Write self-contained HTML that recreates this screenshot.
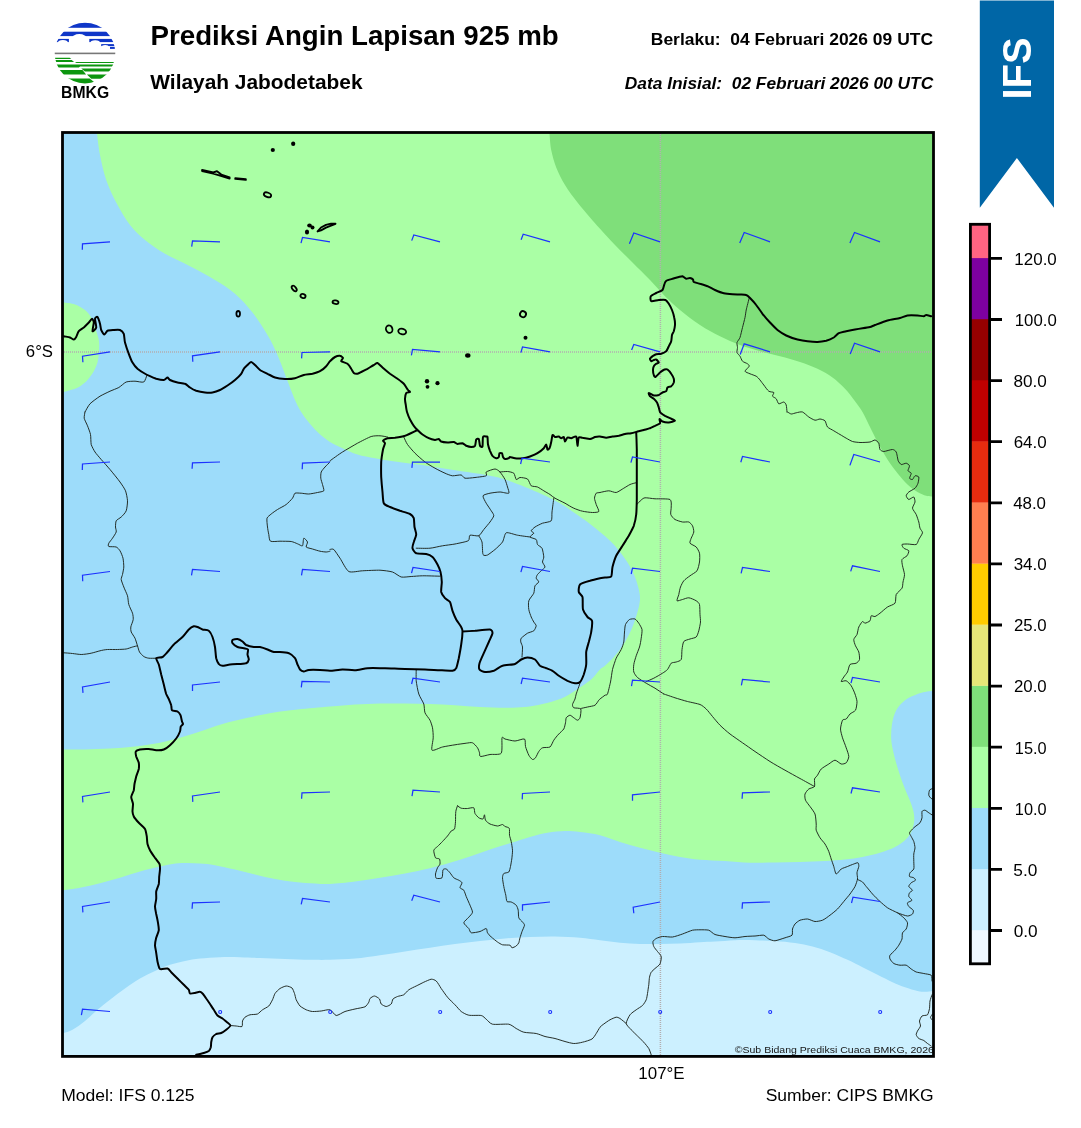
<!DOCTYPE html>
<html lang="id"><head><meta charset="utf-8"><title>Prediksi Angin Lapisan 925 mb</title>
<style>html,body{margin:0;padding:0;background:#fff}svg{display:block}text{font-family:"Liberation Sans",Arial,Helvetica,sans-serif}</style></head><body>
<svg width="1081" height="1128" viewBox="0 0 1081 1128">
<rect width="1081" height="1128" fill="#fff"/>
<defs><clipPath id="mapclip"><rect x="62.5" y="132.5" width="871" height="923.9"/></clipPath><clipPath id="logoclip"><circle cx="85" cy="53.1" r="30.3"/></clipPath></defs>
<g clip-path="url(#mapclip)">
<rect x="62.5" y="132.5" width="871" height="923.9" fill="#AAFFA5"/>
<path d="M97 127.5L97 133.8C97.5 137.3 98.5 147.3 100 155C101.5 162.7 103.5 172.1 106.2 180C109 187.9 112.3 195 116.2 202.5C120.2 210 125.2 218.8 130 225C134.8 231.2 139.2 235.2 145 240C150.8 244.8 157.5 249.4 165 253.8C172.5 258.1 181.7 261.9 190 266.2C198.3 270.6 207.5 275.4 215 280C222.5 284.6 228.8 288.3 235 293.8C241.2 299.2 247.1 305.6 252.5 312.5C257.9 319.4 263.3 327.9 267.5 335C271.7 342.1 274.4 347.9 277.5 355C280.6 362.1 283.3 370 286.2 377.5C289.2 385 292.5 394.2 295 400C297.5 405.8 299.2 408.5 301.2 412C303.3 415.5 304.8 417.4 307.5 420.8C310.2 424.1 313.8 428.5 317.5 432C321.2 435.5 325.8 439.3 330 442C334.2 444.7 337.9 446.2 342.5 448.2C347.1 450.3 352.1 452.8 357.5 454.5C362.9 456.2 368.8 457.1 375 458.2C381.2 459.4 387.9 460.5 395 461.5C402.1 462.5 409.6 463.4 417.5 464.5C425.4 465.6 434.2 467 442.5 468.2C450.8 469.5 459.6 470.8 467.5 472C475.4 473.2 483.8 474.5 490 475.8C496.2 477 499.2 477.6 505 479.5C510.8 481.4 518.8 484.5 525 487C531.2 489.5 536.7 491.8 542.5 494.5C548.3 497.2 554.6 500.1 560 503.2C565.4 506.4 570.4 510.1 575 513.2C579.6 516.4 583.3 518.9 587.5 522C591.7 525.1 596.2 528.9 600 532C603.8 535.1 606.7 537.4 610 540.8C613.3 544.1 616.9 548 620 552C623.1 556 626.2 560.3 628.8 564.5C631.2 568.7 633.3 572.8 635 577C636.7 581.2 637.9 585.8 638.8 589.5C639.6 593.2 640.2 595.8 640 599.5C639.8 603.2 638.8 607.4 637.5 612C636.2 616.6 634.6 622 632.5 627C630.4 632 627.9 637.2 625 642C622.1 646.8 618.3 651.8 615 655.8C611.7 659.7 607.5 663.5 605 665.8C602.5 668 602.1 667.4 600 669.5C597.9 671.6 595.4 675.5 592.5 678.2C589.6 681 586.2 683.1 582.5 685.8C578.8 688.4 573.8 691.8 570 694C566.2 696.2 564.6 697.3 560 699C555.4 700.7 548.3 702.7 542.5 704C536.7 705.3 531.2 706.4 525 707C518.8 707.6 512.5 707.8 505 707.8C497.5 707.8 488.3 707.4 480 707C471.7 706.6 463.3 705.8 455 705.2C446.7 704.8 438.3 704.3 430 704C421.7 703.7 413.3 703.6 405 703.5C396.7 703.4 388.3 703.3 380 703.5C371.7 703.7 363.3 704 355 704.5C346.7 705 339.6 705.7 330 706.5C320.4 707.3 307.1 708.5 297.5 709.5C287.9 710.5 280.8 711.4 272.5 712.8C264.2 714.1 255.8 715.9 247.5 717.8C239.2 719.6 230.4 721.7 222.5 724C214.6 726.3 207.1 729.2 200 731.5C192.9 733.8 186.7 735.9 180 737.8C173.3 739.6 167.5 741.3 160 742.8C152.5 744.2 143.3 745.5 135 746.5C126.7 747.5 118.3 748 110 748.5C101.7 749 92.7 749.3 85 749.5C77.3 749.7 67.3 749.5 63.8 749.5L57.5 749.5L57.5 127.5Z" fill="#9DDCFA"/>
<path d="M57.5 302.5L63.8 302.5C65.6 302.8 71.5 303.2 75 304.5C78.5 305.8 82.3 307.8 85 310C87.7 312.2 89.6 314.6 91.2 317.5C92.9 320.4 93.8 324.2 95 327.5C96.2 330.8 97.5 334.6 98.2 337.5C99 340.4 99.2 342.3 99.2 345C99.3 347.7 99 350.8 98.8 353.8C98.5 356.7 98.3 359.6 97.5 362.5C96.7 365.4 95.4 368.3 93.8 371.2C92.1 374.2 89.6 377.6 87.5 380C85.4 382.4 83.3 384 81.2 385.5C79.2 387 77.9 387.7 75 388.8C72.1 389.8 65.6 391.5 63.8 392L57.5 392Z" fill="#AAFFA5"/>
<path d="M57.5 890.2L63.8 890.2C66.5 889.8 74 888.9 80 887.8C86 886.6 93.3 884.9 100 883.2C106.7 881.6 113.3 879.7 120 877.8C126.7 875.8 133.3 873.4 140 871.5C146.7 869.6 154.6 867.8 160 866.5C165.4 865.2 168.3 864.6 172.5 864C176.7 863.4 180.4 863.1 185 863C189.6 862.9 195 863.1 200 863.5C205 863.9 209.2 864.2 215 865.2C220.8 866.2 228.3 868 235 869.5C241.7 871 248.3 872.9 255 874.5C261.7 876.1 268.3 877.8 275 879C281.7 880.2 288.3 881.2 295 882C301.7 882.8 309.2 883.2 315 883.5C320.8 883.8 323.3 884.3 330 884C336.7 883.7 346.7 882.5 355 881.5C363.3 880.5 371.7 879.1 380 877.8C388.3 876.4 396.7 875.1 405 873.5C413.3 871.9 422.5 870 430 868.2C437.5 866.5 443.3 864.7 450 862.8C456.7 860.8 463.3 858.7 470 856.5C476.7 854.3 483.3 851.7 490 849.5C496.7 847.3 503.3 845.3 510 843.2C516.7 841.2 523.8 838.8 530 837C536.2 835.2 541.7 833.8 547.5 832.8C553.3 831.8 559.6 831.1 565 831C570.4 830.9 574.2 831.3 580 832C585.8 832.7 593.3 833.6 600 835.2C606.7 836.9 613.3 839.9 620 842C626.7 844.1 633.3 846 640 847.8C646.7 849.5 653.3 851.2 660 852.8C666.7 854.3 673.3 855.8 680 857C686.7 858.2 692.5 859.1 700 859.8C707.5 860.4 716.7 860.5 725 861C733.3 861.5 741.7 862.5 750 862.8C758.3 863 766.7 862.6 775 862.5C783.3 862.4 791.7 862.2 800 862C808.3 861.8 817.5 861.4 825 861C832.5 860.6 838.8 860.2 845 859.5C851.2 858.8 856.7 858.1 862.5 857C868.3 855.9 874.6 854.4 880 852.8C885.4 851.1 890.6 849.3 895 847C899.4 844.7 903.3 842 906.2 839C909.2 836 911.2 832.8 912.5 829C913.8 825.2 914.5 820.7 914.2 816.5C914 812.3 912.8 808.6 911.2 804C909.7 799.4 907.1 794.4 905 789C902.9 783.6 900.6 777.3 898.8 771.5C896.9 765.7 895 759.4 893.8 754C892.5 748.6 891.5 744 891.2 739C891 734 891.2 728.8 892 724C892.8 719.2 894.1 714.2 896.2 710.2C898.4 706.3 901.5 703 905 700.2C908.5 697.5 914.2 695.4 917.5 694C920.8 692.6 922.5 692.5 925 692C927.5 691.5 931.2 691 932.5 690.8L938.5 690.8L938.5 1061.4L57.5 1061.4Z" fill="#9DDCFA"/>
<path d="M57.5 1033L63.8 1033C65.2 1032.5 69 1031.8 72.5 1029.8C76 1027.8 80.8 1024.3 85 1021C89.2 1017.7 93.3 1013.3 97.5 1009.8C101.7 1006.2 105.4 1003.3 110 999.8C114.6 996.2 120 992 125 988.5C130 985 135 981.4 140 978.5C145 975.6 150 973.3 155 971C160 968.7 165 966.4 170 964.8C175 963.1 180 962 185 961C190 960 194.2 959.1 200 958.5C205.8 957.9 213.3 957.5 220 957.2C226.7 957 233.3 957.1 240 957.2C246.7 957.4 252.5 957.7 260 958C267.5 958.3 276.7 958.7 285 959C293.3 959.3 302.5 959.6 310 959.8C317.5 959.9 322.5 960 330 959.8C337.5 959.5 346.7 959.2 355 958.5C363.3 957.8 371.7 956.4 380 955.2C388.3 954.1 396.7 952.8 405 951.5C413.3 950.2 421.7 949 430 947.8C438.3 946.5 446.7 945.1 455 944C463.3 942.9 471.7 941.9 480 941C488.3 940.1 496.7 939.2 505 938.5C513.3 937.8 521.7 937.3 530 937C538.3 936.7 546.7 936.4 555 936.5C563.3 936.6 572.5 937.1 580 937.8C587.5 938.4 593.3 939.4 600 940.2C606.7 941.1 613.3 942.1 620 942.8C626.7 943.4 633.3 943.8 640 944C646.7 944.2 653.3 944.1 660 944C666.7 943.9 673.3 943.8 680 943.5C686.7 943.2 694.2 942.6 700 942.2C705.8 941.9 709.2 941.8 715 941.5C720.8 941.2 728.3 940.5 735 940.2C741.7 940 748.3 940.1 755 940.2C761.7 940.4 768.3 940.5 775 941C781.7 941.5 788.8 942.1 795 943C801.2 943.9 806.7 945 812.5 946.5C818.3 948 824.2 950 830 952.2C835.8 954.5 842.1 957.2 847.5 959.8C852.9 962.2 857.5 964.8 862.5 967.2C867.5 969.8 872.5 972.2 877.5 974.8C882.5 977.2 887.9 980.2 892.5 982.2C897.1 984.3 900.8 985.8 905 987.2C909.2 988.7 914.2 990.2 917.5 991C920.8 991.8 922.5 991.8 925 991.8C927.5 991.8 931.2 991.1 932.5 991L938.5 991L938.5 1061.4L57.5 1061.4Z" fill="#CCF0FF"/>
<path d="M549.5 127.5L549.5 133.8C549.8 136.5 550.1 144.4 551.2 150C552.4 155.6 554 161.7 556.2 167.5C558.5 173.3 561.5 179.2 565 185C568.5 190.8 573.3 197.1 577.5 202.5C581.7 207.9 586.2 213.1 590 217.5C593.8 221.9 595.8 224.2 600 228.8C604.2 233.3 609.6 239.4 615 245C620.4 250.6 626.7 256.7 632.5 262.5C638.3 268.3 644.6 274.4 650 280C655.4 285.6 660 291.2 665 296.2C670 301.2 674.2 305.2 680 310C685.8 314.8 693.3 320.6 700 325C706.7 329.4 713.3 332.9 720 336.2C726.7 339.6 733.3 342.5 740 345C746.7 347.5 753.3 349.4 760 351.2C766.7 353.1 773.3 354.5 780 356.2C786.7 358 793.8 359.9 800 362C806.2 364.1 812.1 366.2 817.5 368.8C822.9 371.3 827.9 374.2 832.5 377.5C837.1 380.8 841.2 384.8 845 388.8C848.8 392.7 852.1 397.4 855 401.2C857.9 405.1 860 407.7 862.5 412C865 416.3 867.5 422 870 427C872.5 432 874.6 436.6 877.5 442C880.4 447.4 884.2 454.3 887.5 459.5C890.8 464.7 894.2 469.1 897.5 473.2C900.8 477.4 904.2 481.4 907.5 484.5C910.8 487.6 914.4 490.1 917.5 492C920.6 493.9 923.8 495 926.2 495.8C928.8 496.5 931.5 496.4 932.5 496.5L938.5 496.5L938.5 127.5Z" fill="#7FDF7A"/>
<path d="M660.4 134V1056M64 351.9H933" stroke="#b3adb0" stroke-width="1.5" stroke-dasharray="1 1" fill="none"/>
<path d="M85 412C85.6 411.1 88.3 405.5 90 403.8C91.7 402 97.8 397.6 100 396.2C102.2 394.9 107.9 392.2 110 391.2C112.1 390.3 116.9 388.5 118.8 387.5C120.6 386.5 124.4 382.7 126.2 382C128.1 381.3 133.1 381.2 135 381.2C136.9 381.2 142.4 382.7 143.8 382C145.1 381.3 146.6 375.8 147 375M85 412C84.9 412.7 84 416.7 84.2 418.2C84.5 419.8 86.8 423.9 87.5 425.8C88.2 427.6 90.1 432.4 90.5 434.5C90.9 436.6 90.8 442.6 91.2 444.5C91.8 446.4 93.9 450.3 95 452C96.1 453.7 99.6 457.6 101.2 459.5C102.9 461.4 107.9 467 110 469.5C112.1 472 118.3 479.6 120 482C121.7 484.4 124.7 488.7 125.5 490.8C126.3 492.8 127.4 498.5 127.5 500.8C127.6 503 126.9 508.9 126.2 510.8C125.6 512.6 122.4 515.9 121.2 517C120.1 518.1 116.9 519.6 116.2 520.8C115.6 521.9 115.5 525.8 115.5 527C115.5 528.2 116.6 530.8 116.2 532C115.9 533.2 113.3 537 112.5 538.2C111.7 539.5 109.2 542.3 108.8 543.2C108.3 544.2 107.9 546.1 108.8 546.5C109.6 546.9 115 546.5 116.2 547C117.5 547.5 119.2 549.5 120 550.8C120.8 552 122.6 556.4 123 558.2C123.4 560.1 123.8 565.2 123.8 567C123.7 568.8 122.8 573.1 122.5 574.5C122.2 575.9 121.1 578.1 121.2 579.5C121.4 580.9 123.1 585.2 123.8 587C124.4 588.8 126.9 593.8 127.5 595.8C128.1 597.7 128.2 602.6 128.8 604.5C129.3 606.4 132 611.6 132.5 613.2C133 614.9 133.4 618 133.2 619.5C133.1 621 131 625.6 130.8 627C130.5 628.4 130.8 630.8 131.2 632C131.7 633.2 134.3 636.7 135 638.2C135.7 639.8 137 644.2 137.5 645.8C138 647.3 138.8 650.8 139.5 652C140.2 653.2 142.7 655.8 143.8 656.5C144.8 657.2 147.4 658.1 148.8 658.2C150.1 658.4 155.4 658.2 156.2 658.2M63.8 652.8C64.7 652.8 70.6 653.3 72.5 653.5C74.4 653.7 79.2 654.5 81.2 654.5C83.3 654.5 89.2 653.7 91.2 653.2C93.3 652.8 98.2 651.2 100 650.8C101.8 650.3 105.6 649.6 107.5 649.5C109.4 649.4 115.4 649.6 117.5 649.5C119.6 649.4 124.6 649.3 126.2 649C127.9 648.7 131.2 647.4 132.5 647C133.8 646.6 136.9 645.9 137.5 645.8M330 462C329.4 462.6 326 465.9 325 467C324 468.1 321.7 470.8 321.2 472C320.8 473.2 320.6 476.9 320.8 478.2C320.9 479.6 322.2 483.1 322.5 484.5C322.8 485.9 324.3 489.9 323.8 490.8C323.2 491.6 319.2 492.1 317.5 492.5C315.8 492.9 310.6 493.9 308.8 494C306.9 494.1 302.8 493.3 301.2 493.2C299.7 493.2 296 492.7 295 493.2C294 493.8 293.5 497 292.5 498.2C291.5 499.5 287.9 503.2 286.2 504.5C284.6 505.8 279.2 508.4 277.5 509.5C275.8 510.6 272.4 513 271.2 514C270.1 515 267.4 516.8 267 518.2C266.6 519.7 267.3 525.2 267.5 527C267.7 528.8 268.4 532.9 268.8 534.5C269.1 536.1 269.2 540.5 270.5 541.2C271.8 542 277.7 541.2 280 541.2C282.3 541.3 289.3 541.2 291.2 541.5C293.2 541.8 296.2 543.3 297.5 543.8C298.8 544.2 301.8 546.4 302.5 545.8C303.2 545.1 303.2 538.7 303.8 538.2C304.3 537.8 307.2 541 307.5 542C307.8 543 305.7 546.2 306.2 547C306.8 547.8 311 548.5 312.5 549C314 549.5 318.5 550.9 320 551.2C321.5 551.6 325.1 552 326.2 552C327.4 552 329.6 551.3 330 551.2M749.2 298C748.9 299.3 746.7 307.8 746.2 310C745.8 312.2 745.4 315.6 745 317.5C744.6 319.4 743.1 325.3 742.5 327.5C741.9 329.7 740.6 335.8 740 337.5C739.4 339.2 737.3 341.4 737 342.5C736.7 343.6 737.5 346.4 737.5 347.5C737.5 348.6 736.7 351.5 737 352.5C737.3 353.5 739.4 355.3 740 356.2C740.6 357.2 741.7 360.4 742.5 361.2C743.3 362.1 746.8 363.2 747.5 363.8C748.2 364.3 749.5 365.4 749.2 366.2C749 367.1 744.9 370.4 745 371.2C745.1 372.1 748.8 373.2 750 373.8C751.2 374.3 755.1 375.6 756.2 376.2C757.4 376.9 759.2 379 760 380C760.8 381 762.8 383.8 763.8 385C764.7 386.2 767.6 390.4 768.8 391.2C769.9 392.1 773.3 391.9 773.8 392.5C774.2 393.1 772.2 395.6 772.5 396.2C772.8 396.9 775.6 397.9 776.2 398.8C776.9 399.6 777.9 403.4 778.8 403.8C779.6 404.1 782.9 401.9 783.8 402C784.6 402.1 785.9 403.9 786.2 405C786.6 406.1 786.9 411.2 787 412C787.1 412.8 787 411.8 787.5 412C788 412.2 790.3 413.9 791.2 414C792.2 414.1 795 413 796.2 412.8C797.5 412.5 801.1 411.5 802.5 412C803.9 412.5 807.4 416.1 808.8 417C810.1 417.9 813.8 420 815 420.2C816.2 420.5 818.9 418.9 820 419C821.1 419.1 824.2 419.9 825 420.8C825.8 421.6 826.5 425.9 827.5 427C828.5 428.1 832.4 429.9 833.8 430.8C835.1 431.6 838.6 433.7 840 434.5C841.4 435.3 844.9 437.5 846.2 438.2C847.6 439 851 441 852.5 441.5C854 442 858.1 442.4 860 442.5C861.9 442.6 868.3 442.3 870 442C871.7 441.7 874 439.9 875 440C876 440.1 878.2 442.2 878.8 443.2C879.3 444.3 879.4 448.6 880 449.5C880.6 450.4 882.4 451.5 883.8 451.5C885.1 451.5 891.1 449.4 892.5 449.5C893.9 449.6 895.6 450.8 896.2 452C896.9 453.2 897.7 459.4 898.2 460.8C898.8 462.1 900.4 464.2 901.2 464.5C902.1 464.8 905.3 463.1 906.2 463.2C907.2 463.4 909.3 464.9 909.5 465.8C909.7 466.6 907.8 469.9 908 470.8C908.2 471.6 911.1 472.4 911.2 473.2C911.4 474.1 909.4 477.6 909.5 478.2C909.6 478.9 911.9 479.8 912.5 479.5C913.1 479.2 914.3 476 915 475.8C915.7 475.5 918.4 476.2 918.8 477C919.1 477.8 918.4 482 918 483.2C917.6 484.5 916 487.3 915 488.2C914 489.2 909.7 491.2 908.8 492C907.8 492.8 906.2 494.9 906.2 495.8C906.2 496.6 907.9 499.4 908.8 499.5C909.6 499.6 913.1 496.7 913.8 497C914.4 497.3 915.1 500.8 915 502C914.9 503.2 912.4 506.9 912.5 508.2C912.6 509.6 915.6 513 916.2 514.5C916.9 516 918.3 520.5 918.8 522C919.2 523.5 919.6 527.1 920 528.2C920.4 529.4 922.6 531.5 922.5 532.8C922.4 534 919.4 538.2 918.8 539.5C918.1 540.8 917.5 544 916.2 544.5C915 545 909.1 544 907.5 544C905.9 544 902.4 544 902 544.5C901.6 545 903 547.6 903.8 548.2C904.5 548.9 908.4 549.9 908.8 550.8C909.1 551.6 907.8 554.8 907 555.8C906.2 556.7 902.5 558.4 902 559.5C901.5 560.6 902.2 564.1 902.5 565.8C902.8 567.4 904.4 572.7 904.5 574.5C904.6 576.3 903.3 580.5 903 582C902.7 583.5 902.8 586.9 902 588.2C901.2 589.6 897 592.8 896.2 594.5C895.5 596.2 896 601.9 895 603.2C894 604.6 889.2 605.9 887.5 607C885.8 608.1 881.4 612.2 880 613.2C878.6 614.3 876 616.2 875 616.5C874 616.8 871.8 615.3 871.2 615.8C870.7 616.2 870.7 619.9 870 620.8C869.3 621.6 865.8 623.2 865 623.2C864.2 623.3 863.2 621.1 862.5 621.5C861.8 621.9 859.4 625.6 858.8 627C858.1 628.4 857.6 633.1 857 634.5C856.4 635.9 853.9 638.2 853.8 639.5C853.6 640.8 854.9 644.4 855.5 645.8C856.1 647.1 858.3 650.5 858.8 652C859.2 653.5 859.8 658.2 859.5 659.5C859.2 660.8 857.3 662.7 856.2 663.2C855.2 663.8 851 663.5 850 664.5C849 665.5 848.2 670.6 847.5 672C846.8 673.4 844.4 675.9 843.8 677C843.1 678.1 841 681.1 841.2 681.5C841.5 681.9 845.1 680.3 846.2 680.8C847.4 681.2 850.3 684.3 851.2 685.8C852.2 687.2 854.4 692.2 855 694C855.6 695.8 856.9 699.7 857 701.5C857.1 703.3 856.3 708.9 855.5 710.2C854.7 711.6 851 713 850 714C849 715 847.1 718.3 846.2 719C845.4 719.7 843.1 719.1 842.5 720.2C841.9 721.4 840.5 727.1 840.5 729C840.5 730.9 841.9 735.7 842.5 737.8C843.1 739.8 845.6 745.7 846.2 747.8C846.9 749.8 848.8 754.8 848.8 756.5C848.8 758.2 847.1 761.9 846.2 762.8C845.4 763.6 842.5 764.3 841.2 764C840 763.7 836.4 760.2 835 760.2C833.6 760.2 830.3 763 828.8 764C827.2 765 822.5 767.8 821.2 769C820 770.2 818.2 774.1 817.5 775.2C816.8 776.4 814.8 777.8 814.5 779C814.2 780.2 815.1 785.4 814.5 786.5C813.9 787.6 809.8 788.2 808.8 789C807.7 789.8 805.4 792.8 805 794C804.6 795.2 804.9 798.9 805.5 800.2C806.1 801.6 808.9 805 810 806.5C811.1 808 814.3 812.1 815 814C815.7 815.9 816.1 822.2 816.2 824C816.4 825.8 815.8 828.7 816.2 830.2C816.7 831.8 819 836.2 820 837.8C821 839.3 824 842.5 825 844C826 845.5 828.1 849.8 828.8 851.5C829.4 853.2 830.7 857.3 831.2 859C831.8 860.7 833.2 864.8 833.8 866.5C834.3 868.2 835.4 873.7 836.2 874C837.1 874.3 840 869.8 841.2 869C842.5 868.2 846.1 867.1 847.5 866.5C848.9 865.9 852.6 864.4 853.8 864C854.9 863.6 857.4 862.5 858 862.8C858.6 863 858.9 865.4 858.8 866.5C858.6 867.6 857.1 871.4 857 872.8C856.9 874.1 857.7 877.5 857.5 879C857.3 880.5 855.8 884.8 855 886.5C854.2 888.2 851.2 892.3 850 894C848.8 895.7 845.1 899.8 843.8 901.5C842.4 903.2 839 907.5 837.5 909C836 910.5 831.7 914 830 915.2C828.3 916.5 824.2 919.6 822.5 920.2C820.8 920.9 816.7 921.6 815 921.5C813.3 921.4 809.2 919.1 807.5 919C805.8 918.9 801.4 919.7 800 920.2C798.6 920.8 795.8 923 795 924C794.2 925 792.8 927.8 792.5 929C792.2 930.2 792.8 934.3 792 935.2C791.2 936.2 786.9 937.1 785 937.8C783.1 938.4 776.8 940.6 775 940.8C773.2 940.9 770 939.6 768.8 939C767.5 938.4 765.3 935.6 763.8 935.2C762.2 934.9 757.1 935.9 755 936C752.9 936.1 747.2 936.3 745 936.5C742.8 936.7 737.2 937.8 735 937.8C732.8 937.8 727.2 936.9 725 936.5C722.8 936.1 716.8 935.2 715 934.5C713.2 933.8 710.4 930.8 708.8 930.2C707.1 929.7 701.8 929.8 700 929.8C698.2 929.8 694.4 929.8 692.5 930.2C690.6 930.7 684.7 933.2 682.5 934C680.3 934.8 674.7 936.7 672.5 937C670.3 937.3 664.3 936.3 662.5 936.5C660.7 936.7 657.3 937.9 656.2 938.5C655.2 939.1 653.3 940.6 653 941.5C652.7 942.4 653.2 945.4 653.8 946.5C654.2 947.6 656.7 950.4 657.5 951.5C658.3 952.6 661 955.1 661.2 956.5C661.5 957.9 660.7 962.7 660 964C659.3 965.3 656 967.6 655 968.5C654 969.4 651.9 971.3 651.2 972.2C650.6 973.2 649.8 975.9 649.5 977.2C649.2 978.6 649 982.9 648.8 984.8C648.5 986.6 647.8 991.8 647.5 993.5C647.2 995.2 646.8 998.4 646.2 999.8C645.7 1001.1 643.6 1004.4 642.5 1005.5C641.4 1006.6 637.6 1008.7 636.2 1009.8C634.9 1010.8 631.1 1013.2 630 1014.8C628.9 1016.3 626.1 1021.8 626.2 1023.5C626.4 1025.2 630 1028.4 631.2 1029.8C632.5 1031.1 636.1 1034.6 637.5 1036C638.9 1037.4 642.5 1040.9 643.8 1042.2C645 1043.6 647.9 1047.1 648.8 1048.5C649.6 1049.9 651 1054.1 651.2 1054.8M626.2 1023.5C625.6 1022.9 621.1 1019.2 620 1018.5C618.9 1017.8 617.4 1017.1 616.2 1017.2C615.1 1017.4 611.4 1019 610 1019.8C608.6 1020.5 604.9 1023.2 603.8 1024C602.6 1024.8 600.8 1026.2 600 1027.2C599.2 1028.3 597.1 1032.2 596.2 1033.5C595.4 1034.8 593.5 1038 592 1039C590.5 1040 584.5 1041.8 582.5 1042.2C580.5 1042.8 575.7 1043.6 573.8 1043.5C571.8 1043.4 567.1 1042.1 565 1041.5C562.9 1040.9 557.2 1039.1 555 1038.5C552.8 1037.9 547.1 1037.1 545 1036.5C542.9 1035.9 538.6 1034 536.2 1033.5C533.9 1033 526 1032.8 523.8 1032.2C521.5 1031.7 517.9 1029.4 516.2 1028.5C514.6 1027.6 511.4 1024.7 508.8 1024.2C506.1 1023.8 495 1024.8 492.5 1024.2C490 1023.7 487.5 1020.2 486.2 1019.2C485 1018.3 483.2 1015.9 481.2 1015.5C479.3 1015.1 471 1015.7 468.8 1015.2C466.5 1014.8 462.8 1012.7 461.2 1011.5C459.7 1010.3 456.5 1006.3 455 1004.8C453.5 1003.2 449 999.1 447.5 997.2C446 995.4 442.5 990.3 441.2 988.5C440 986.7 437.4 982 436.2 981C435.1 980 432.6 979.1 431.2 979.2C429.9 979.4 425.4 981.5 423.8 982.2C422.1 983 417.9 985.2 416.2 986C414.6 986.8 410.1 988.8 408.8 989.8C407.4 990.7 405 994 403.8 994.8C402.5 995.5 398.7 996 397.5 996.5C396.3 997 393.7 998.2 393 999C392.3 999.8 392 1003.2 391.2 1004C390.5 1004.8 387.4 1006.5 386.2 1006.5C385.1 1006.5 382 1004.8 381.2 1004C380.5 1003.2 380.2 999.9 379.5 999C378.8 998.1 375.6 996.1 374.5 996C373.4 995.9 370.6 997.8 370 998.5C369.4 999.2 369.3 1001.3 368.8 1002.2C368.2 1003.2 366.5 1006 365 1006.8C363.5 1007.5 357.2 1008.5 355 1009C352.8 1009.5 347.1 1010.8 345 1011.5C342.9 1012.2 337.9 1015.7 336.2 1015.5C334.6 1015.3 331.7 1010.2 330 1009.8C328.3 1009.2 323.2 1010.8 321.2 1011C319.3 1011.2 314.2 1011.6 312.5 1011.5C310.8 1011.4 307.6 1010.4 306.2 1009.8C304.9 1009.1 301.1 1007.1 300 1006C298.9 1004.9 296.9 1001.1 296.2 999.8C295.6 998.4 295 994.8 294.5 993.5C294 992.2 292.9 988.8 292 988C291.1 987.2 287.6 985.9 286.2 986C284.9 986.1 281.2 987.7 280 988.5C278.8 989.3 275.8 992.2 275 993.5C274.2 994.8 273.2 998.4 272.5 999.8C271.8 1001.1 269.9 1004.9 268.8 1006C267.6 1007.1 263.8 1008.9 262.5 1009.8C261.2 1010.6 258.9 1013.4 257.5 1014C256.1 1014.6 251.4 1014.4 250 1014.8C248.6 1015.1 245.8 1016.6 245 1017.2C244.2 1017.9 242.8 1020 242.5 1021C242.2 1022 242.7 1025.9 242 1026.5C241.3 1027.1 237.5 1026.1 236.2 1026C235 1025.9 231.1 1025.6 230.5 1025.5M663.8 694C665 694.4 672.4 696.9 675 697.8C677.6 698.6 684.7 700.8 687.5 701.5C690.3 702.2 697.9 703.7 700 704.5C702.1 705.3 704.9 707.7 706.2 709C707.6 710.3 711 714.7 712.5 716.5C714 718.3 718.1 723.3 720 725.2C721.9 727.2 727.5 732.1 730 734C732.5 735.9 739.7 740.8 742.5 742.8C745.3 744.7 751.9 749.4 755 751.5C758.1 753.6 766.7 759.4 770 761.5C773.3 763.6 781.7 768.4 785 770.2C788.3 772.1 796.7 776.7 800 778.5C803.3 780.3 812.9 785.6 814.5 786.5M857.5 879.5C858.1 879.8 861.5 881.2 862.5 882C863.5 882.8 865.1 885.2 866.2 886.5C867.4 887.8 871 892.3 872.5 894C874 895.7 878.3 900 880 901.5C881.7 903 885.6 906.5 887.5 907.8C889.4 909 895.3 911.8 897.5 912.8C899.7 913.7 905.8 915.9 907.5 916C909.2 916.1 911.9 914.6 912.5 914C913.1 913.4 913.7 911.1 913.2 910.2C912.8 909.4 909.4 907.3 908.8 906.5C908.1 905.7 907.1 903.4 907.5 902.8C907.9 902.1 911.9 900.9 912 900.2C912.1 899.6 909 897.3 908.8 896.5C908.5 895.7 909.1 893.4 909.5 892.8C909.9 892.1 912.6 890.9 912.5 890.2C912.4 889.6 908.9 887.3 908.8 886.5C908.6 885.7 910.5 883.4 911.2 882.8C912 882.1 915.2 880.8 915.5 880.2C915.8 879.7 914.4 878.2 913.8 877.8C913.1 877.3 909.9 877.1 909.5 876.5C909.1 875.9 909.5 873.6 910 872.8C910.5 871.9 913.3 870.2 913.8 869C914.2 867.8 913.8 863.2 913.8 861.5C913.8 859.8 913.6 855.5 913.8 854C913.9 852.5 915 849.1 915 847.8C915 846.4 914.2 842.8 913.8 841.5C913.3 840.2 911.7 837.5 911.2 836.5C910.8 835.5 909.2 833.7 909.5 832.8C909.8 831.8 912.6 828.9 913.8 827.8C914.9 826.6 919.1 823.9 920 822.8C920.9 821.6 921.8 819 922 817.8C922.2 816.5 921.7 812.3 922 811.5C922.3 810.7 924.2 810.1 925 810.2C925.8 810.4 927.9 812.2 928.8 812.8C929.6 813.3 932.1 815 932.5 815.2M897.5 912.8C898.2 913.3 902.6 916.6 903.8 917.8C904.9 918.9 907.2 921.5 907.5 922.8C907.8 924 906.8 927.9 906.2 929C905.7 930.1 903 931.6 902.5 932.8C902 933.9 902.4 937.6 902 939C901.6 940.4 899.5 944 898.8 945.2C898 946.5 896 949.1 895 950.2C894 951.4 890.6 954.3 890 955.2C889.4 956.2 889.6 958.1 890 959C890.4 959.9 892.6 962.8 893.8 963.5C894.9 964.2 898.6 965.1 900 965.2C901.4 965.4 905 964.8 906.2 965.2C907.5 965.7 910.1 968.2 911.2 969C912.4 969.8 914.9 971.5 916.2 972C917.6 972.5 922.1 973.1 923.8 973.5C925.4 973.9 930.3 974.4 931.2 975.2C932.2 976.1 931.9 980.4 932 981M932.5 788.5C932.2 788.7 929.9 789.5 929.5 790.2C929.1 791 928.6 794.3 928.8 795.2C928.9 796.2 930.8 798.1 931.2 798.5C931.7 798.9 932.4 798.9 932.5 799M932 994.8C931.8 995.4 930.3 999.5 930 1001C929.7 1002.5 929.8 1007 929.5 1008.5C929.2 1010 928.3 1013.9 927.5 1014.8C926.7 1015.6 922.9 1015.3 922 1016C921.1 1016.7 919.7 1019.9 919.5 1021C919.3 1022.1 920.7 1024.9 920.5 1026C920.3 1027.1 918 1030 917.5 1031C917 1032 916.1 1033.9 916.2 1034.8C916.4 1035.6 917.9 1037.9 918.8 1038.5C919.6 1039.1 922.8 1039.9 923.8 1040.5C924.7 1041.1 926.7 1042.9 927.5 1043.5C928.3 1044.1 930.8 1045.7 931.2 1046M932.5 1014C932.3 1014.4 930.6 1016.6 930.5 1017.2C930.4 1017.9 931.8 1019.5 932 1019.8M330 460.8C331.4 459.8 339.4 453.9 342.5 452C345.6 450.1 354.3 445 357.5 443.2C360.7 441.5 368.8 437.3 371.2 436.5C373.8 435.7 378.2 435.7 380 435.8C381.8 435.8 386.7 436.9 387.5 437M403.8 437C404.2 437.8 406.2 442.7 407.5 444.5C408.8 446.3 413.1 451.3 415 453.2C416.9 455.2 422.8 460.3 425 462C427.2 463.7 432.8 467 435 468.2C437.2 469.5 443.1 472.4 445 473.2C446.9 474.1 450.7 475.6 452.5 475.8C454.3 475.9 459.9 474.7 461.2 475C462.6 475.3 463.5 478 465 478.2C466.5 478.5 472.6 477.8 475 477.5C477.4 477.2 485 476.4 486.2 475.8C487.5 475.1 485.3 472.8 486.2 472C487.2 471.2 493.5 469 495 469C496.5 469 498.9 470.8 500 472C501.1 473.2 504.2 477.8 505 479.5C505.8 481.2 507.1 485.5 507.5 487C507.9 488.5 509.6 492.7 508.8 493.2C507.9 493.8 502.1 492 500 492C497.9 492 491.9 492.8 490 493.2C488.1 493.7 483.4 494.6 483 495.8C482.6 496.9 485.3 501.6 486.2 503.2C487.2 504.9 490.4 509.4 491.2 510.8C492.1 512.1 493.9 514.5 493.8 515.8C493.6 517 491.1 520.5 490 522C488.9 523.5 485 528 483.8 529.5C482.5 531 480.3 535.1 478.8 535.8C477.2 536.4 471.2 534.7 470 535.2C468.8 535.8 469.9 539.8 468.2 540.8C466.6 541.7 457.9 543.4 455 544C452.1 544.6 445.3 545.3 442.5 545.8C439.7 546.2 432.9 548 430 548.2C427.1 548.5 417.8 548.2 416.2 548.2M478.8 535.8C479.1 536.4 481.5 539.9 482 542C482.5 544.1 482.4 553.1 483 554.5C483.6 555.9 486.2 555.6 487.5 555C488.8 554.4 493.3 550.9 495 549.5C496.7 548.1 501.2 543.9 502.5 542C503.8 540.1 504.6 533.5 506.2 532.8C507.9 532 514.9 534.8 517.5 535.2C520.1 535.7 528.6 536.8 530 537M500 472C500.8 471.9 506 471.4 507.5 471.5C509 471.6 512.8 472.4 513.8 473.2C514.7 474.1 515.6 479 516.2 479.5C516.9 480 518.8 477.6 520 477.5C521.2 477.4 526.2 478.1 527.5 479C528.8 479.9 530.1 484.9 531.2 485.8C532.4 486.6 536.1 486.4 537.5 487C538.9 487.6 542.4 489.9 543.8 490.8C545.1 491.6 548.8 493.7 550 494.5C551.2 495.3 553.3 497.3 555 498.2C556.7 499.2 562.9 502.1 565 503.2C567.1 504.4 571.8 507.4 573.8 508.2C575.7 509.1 580.4 510.8 582.5 511.2C584.6 511.7 590.7 512.5 592.5 512.5C594.3 512.5 598.3 512.4 598.8 511.5C599.2 510.6 596.7 506 596.2 504.5C595.8 503 594.5 499.5 594.5 498.2C594.5 497 595.6 493.9 596.2 493.2C596.9 492.6 598.6 492.8 600 492.5C601.4 492.2 606.9 490.8 608.8 490.8C610.6 490.8 614.6 492.8 616.2 492.5C617.9 492.2 622.2 489.1 623.8 488.2C625.3 487.4 628.7 485.1 630 484.5C631.3 483.9 635.1 482.9 635.8 482.8M553.8 498.2C553.6 499.8 552.3 509.5 552 512C551.7 514.5 552.3 519.5 551.2 520.8C550.2 522 544.3 522.6 542.5 523.2C540.7 523.9 536.2 526.2 535 527C533.8 527.8 531.4 530.1 531.2 530.8C531.1 531.4 533.9 532.6 533.8 533.2C533.6 533.9 529.7 536.3 530 537C530.3 537.7 535.4 538.7 536.2 539.5C537.1 540.3 536.9 543.5 537.5 544.5C538.1 545.5 541.3 546.9 542 548.2C542.7 549.6 543.7 555.5 543.8 557C543.8 558.5 542.4 560.9 542.5 562C542.6 563.1 545.1 566 545 567C544.9 568 542.1 569.9 541.2 570.8C540.4 571.6 538.1 573.7 537.5 574.5C536.9 575.3 536.1 577.4 536.2 578.2C536.4 579.1 538.9 581.2 538.8 582C538.6 582.8 535.6 584.5 535 585.8C534.4 587 534.4 591.6 533.8 593.2C533.1 594.9 529.3 598.9 528.8 600.8C528.2 602.6 528.5 607.7 528.8 609.5C529 611.3 530.7 615.6 531.2 617C531.8 618.4 533.2 621 533.8 622C534.3 623 536.2 624.8 536.2 625.8C536.2 626.7 534.7 629.9 533.8 630.8C532.8 631.6 528.9 632.4 527.5 633.2C526.1 634.1 522 637.3 521.2 638.2C520.5 639.2 520.6 641 520.8 642C520.9 643 522.4 645.3 522.5 647C522.6 648.7 522.1 655.9 522 657M330 549.5C330.4 549.5 332.6 548.5 333.8 549.5C334.9 550.5 338.3 555.8 340 558.2C341.7 560.7 346.2 570.1 348.8 571.5C351.2 572.9 359 570.9 362.5 570.8C366 570.6 376.7 570.1 380 570.2C383.3 570.4 390.1 571.2 392.5 572C394.9 572.8 399.2 576.5 401.2 577C403.3 577.5 408.9 576.6 411.2 576.5C413.6 576.4 419.3 575.8 422.5 575.8C425.7 575.7 438.1 576.2 440 576.2M416.2 669.5C416.2 670.8 416 678 416.2 680.8C416.5 683.5 417.9 691.4 418.8 694C419.6 696.6 423.1 701.9 423.8 704C424.4 706.1 424.3 710.9 425 712.8C425.7 714.6 429.2 718.6 430 720.2C430.8 721.9 432.1 725.8 432.5 727.8C432.9 729.7 433.3 735.2 433.2 737.8C433.2 740.2 431 749.2 432 750.2C433 751.3 439.9 747.6 442.5 747C445.1 746.4 452.4 745.2 455 744.8C457.6 744.3 464.3 743.5 466.2 743.2C468.2 743 471.2 742.2 472.5 742.8C473.8 743.2 476.7 746.6 477.5 747.8C478.3 748.9 479.2 751.8 479.5 752.8C479.8 753.7 479.3 756.3 480.5 756.5C481.7 756.7 487.7 754.9 490 754.5C492.3 754.1 499.9 755.1 501.2 753.2C502.6 751.4 501.6 739.3 502 737.8C502.4 736.2 503.6 738.6 505 739C506.4 739.4 512.8 741 515 741C517.2 741 523.3 738.4 524.5 739C525.7 739.6 525 744.7 525.5 746.5C526 748.3 528 753.8 528.8 755.2C529.5 756.7 531.8 759.2 532.5 759.5C533.2 759.8 534.8 758.6 535.5 757.8C536.2 756.9 538 752.6 538.8 751.5C539.5 750.4 541.2 748.2 542.5 747.8C543.8 747.2 548.8 747.8 550 747C551.2 746.2 552.8 741.7 553.8 740.2C554.7 738.8 557.6 735.2 558.8 734C559.9 732.8 563 730.2 563.8 729C564.5 727.8 565.2 724 565.5 722.8C565.8 721.5 565.8 718.6 566.2 717.8C566.8 716.9 569.2 715.2 570 715.2C570.8 715.2 572.9 717.2 573.8 717.8C574.6 718.3 576.8 720.2 577.5 720.2C578.2 720.2 579.6 719 580 717.8C580.4 716.5 581.4 710.1 580.8 709C580.1 707.9 574.7 708.2 573.8 707.8C572.8 707.2 572.4 705.5 572.5 704.5C572.6 703.5 574.6 700.2 575 699C575.4 697.8 575.7 695.8 576.2 694C576.8 692.2 579.6 684.4 580 683.2M580.8 708.5C581.5 708.3 585.9 707.4 587.5 707C589.1 706.6 593.8 706 595 705.2C596.2 704.5 598.2 700.9 598.8 700.2C599.3 699.6 599.3 699.6 600 699C600.7 698.4 604.2 695.8 605 695.2C605.8 694.7 606.9 695.5 607.5 694C608.1 692.5 609.9 684.7 610.5 682C611.1 679.3 611.9 672.1 612.5 669.5C613.1 666.9 615.3 660.5 616.2 658.2C617.2 656 620.4 651.3 621.2 649.5C622.1 647.7 623.4 643.9 623.8 642C624.1 640.1 624.3 633.9 624.5 632C624.7 630.1 624.9 625.9 625.5 624.5C626.1 623.1 628.4 620.1 629.5 619.5C630.6 618.9 634 618.6 635 619C636 619.4 638 622.1 638.8 623.2C639.5 624.4 641.7 627.8 642 629.5C642.3 631.2 641.5 636.3 641.2 638.2C641 640.2 640.1 645.1 639.5 647C638.9 648.9 636.9 653.8 636.2 655.8C635.6 657.7 634 662.7 633.8 664.5C633.5 666.3 633.3 670.6 633.8 672C634.2 673.4 636.1 676.2 637.5 677.5C638.9 678.8 644.3 682.1 646.2 683.2C648.2 684.4 653.1 687.1 655 688.2C656.9 689.4 662.8 693.4 663.8 694M636.8 504.5C637.2 504 640.3 500.8 641.2 500C642.2 499.2 643.5 497.9 645 497.8C646.5 497.6 652.2 498.6 655 498.8C657.8 498.9 668.2 498.6 670 499.5C671.8 500.4 671.2 505.3 671.2 507C671.3 508.7 670.3 513.1 670.8 514.5C671.2 515.9 673.7 518.7 675 519.5C676.3 520.3 681 521.7 682.5 522C684 522.3 687.6 521.6 688.8 522C689.9 522.4 691.9 524.6 692.5 525.8C693.1 526.9 693.9 530.6 693.8 532C693.6 533.4 691.7 537 691.2 538.2C690.8 539.5 689.4 542.3 690 543.2C690.6 544.2 695.2 545.9 696.2 547C697.3 548.1 699.1 551.6 699.5 553.2C699.9 554.9 699.8 560.1 699.5 562C699.2 563.9 698.1 569.2 697 570.8C695.9 572.3 691.5 574.6 690 575.8C688.5 576.9 684.8 579.5 683.8 580.8C682.7 582 681.1 585.5 680.5 587C679.9 588.5 679.1 593 678.8 594.5C678.4 596 676.6 600.2 677 600.8C677.4 601.3 681.2 599.8 682.5 599.5C683.8 599.2 687.2 597.6 688.8 597.8C690.3 597.9 695.1 600 696.2 600.8C697.4 601.5 699.1 603 699.5 604.5C699.9 606 699.9 612.6 700 614.5C700.1 616.4 700.6 620.2 700.5 622C700.4 623.8 699.2 629.1 698.8 630.8C698.3 632.4 697.2 636.1 696.2 637C695.3 637.9 691.4 638.5 690 639C688.6 639.5 684.6 640.3 683.8 641.5C682.9 642.7 682.3 647.5 682 649.5C681.7 651.5 681.9 658.1 681.2 659.5C680.6 660.9 677.4 661.6 676.2 662C675.1 662.4 672.2 662.4 671.2 663.2C670.3 664.1 668.5 668.4 667.5 669.5C666.5 670.6 664 672.3 662.5 673.2C661 674.2 655.6 677.3 653.8 678.2C651.9 679.2 647.1 681.1 646.2 681.5M457.5 805.8C457.9 806 460.1 807.9 461.2 808.2C462.4 808.6 466.1 808.6 467.5 808.5C468.9 808.4 472.9 807.2 473.8 807.8C474.6 808.3 474.4 812.4 475 813.5C475.6 814.6 477.9 817.1 478.8 817.8C479.6 818.4 482.4 819.3 483 819C483.6 818.7 484.2 814.6 484.5 814.8C484.8 814.9 484.9 819.2 485.5 820.2C486.1 821.3 488.7 823.4 490 824C491.3 824.6 496.1 825.9 497.5 826C498.9 826.1 501.7 824.4 502.5 824.5C503.3 824.6 504.2 826.1 505 826.5C505.8 826.9 508.8 827.3 509.2 828.2C509.8 829.2 509.3 833.8 509.5 835.2C509.7 836.7 510.9 839.8 511.2 841.5C511.6 843.2 512.4 848.3 512.5 850.2C512.6 852.2 512 857.2 511.8 859C511.5 860.8 510.8 865.1 510.5 866.5C510.2 867.9 509.5 871.2 508.8 872C508 872.8 504.4 872.9 503.8 873.5C503.1 874.1 502.5 876.3 502.5 877.8C502.5 879.2 503.4 884.6 503.8 886.5C504.1 888.4 505.4 893.6 505.8 895.2C506.1 896.9 506.4 900.8 507 901.5C507.6 902.2 510.2 901.6 511.2 902C512.3 902.4 515.5 904.3 516.2 905.2C517 906.2 518 908.9 518.2 910.2C518.5 911.6 518.3 916.4 518.8 917.8C519.2 919.1 521.9 921.2 522.5 922C523.1 922.8 524.6 924.2 524.5 925.2C524.4 926.3 522.5 930.1 522 931.5C521.5 932.9 520.4 936.5 520 937.8C519.6 939 519.2 941.8 518.8 942.8C518.3 943.7 517 945.4 516.2 946C515.5 946.6 512.7 947.8 512 947.8C511.3 947.7 511.1 945.6 510 945.2C508.9 944.9 503.9 945.1 502.5 944.8C501.1 944.4 498.8 942.9 497.5 942C496.2 941.1 492.4 938 491.2 937C490.1 936 488.1 933.7 487.5 932.8C486.9 931.8 487.1 928.6 486.2 928.5C485.4 928.4 481.7 931 480 931.5C478.3 932 472.5 933.1 471.2 932.8C470 932.4 469.6 929.6 468.8 928.5C467.9 927.4 463.8 924 463.8 922.8C463.8 921.5 467.8 918.4 468.8 917.2C469.7 916.1 472.4 913.6 472.5 912.2C472.6 910.9 470.7 907 470 905.2C469.3 903.5 466.9 898.2 466.2 896.5C465.6 894.8 464.4 891.2 463.8 890.2C463.1 889.3 460.2 888.6 460 887.8C459.8 886.9 462.1 883.6 462 882.8C461.9 881.9 459.7 880.8 458.8 880.2C457.8 879.7 454.7 878.6 453.8 877.8C452.8 876.9 450.8 873.7 450 872.8C449.2 871.8 447 869.3 446.2 869C445.5 868.7 443.5 868.8 443 869.8C442.5 870.7 442.8 876.8 442 877.8C441.2 878.7 437 878.7 436.2 878.2C435.5 877.8 435.4 875.2 435.5 874C435.6 872.8 437 868.9 437.5 867.8C438 866.6 439.8 865 440 864C440.2 863 440 859.7 439.5 859C439 858.3 436.1 858.7 435.5 857.8C434.9 856.8 433.5 851.5 433.8 850.2C434 849 436.5 847.5 437.5 846.5C438.5 845.5 441.4 842.7 442.5 841.5C443.6 840.3 446.5 837.2 447.5 836C448.5 834.8 450.5 831.8 451.2 831C452 830.2 454 830.1 454.5 829C455 827.9 455.4 823.4 455.5 821.5C455.6 819.6 455.5 813.2 455.8 811.5C456 809.8 457.3 806.4 457.5 805.8" fill="none" stroke="#1c241c" stroke-width="0.95" stroke-linejoin="round" stroke-linecap="round"/>
<path d="M63.8 336.2C64.4 336.4 68.9 337.1 70 337.5C71.1 337.9 73.1 339.6 73.8 339.5C74.4 339.4 75.7 337.9 76.2 337C76.8 336.1 77.9 332.3 78.8 331.2C79.6 330.2 82.6 328.5 83.8 327.5C84.9 326.5 87.8 323.5 88.8 322.5C89.7 321.5 91.4 318.8 92 318.8C92.6 318.8 93.7 321.1 93.8 322.5C93.8 323.9 92.2 330.7 92.5 331.2C92.8 331.8 96 328.9 96.2 327.5C96.5 326.1 94.9 319.9 95 318.8C95.1 317.6 96.9 316.4 97.5 317C98.1 317.6 99.6 322.3 100 323.8C100.4 325.2 100.8 328.8 101.2 330C101.8 331.2 103.8 334.4 104.5 334.5C105.2 334.6 106.5 331.2 107.5 330.8C108.5 330.2 112.4 330.1 113.8 330C115.1 329.9 118.9 329.6 120 330C121.1 330.4 123.2 332.4 123.8 333.8C124.3 335.1 124.4 340.3 125 342.5C125.6 344.7 127.9 351.5 128.8 353.8C129.6 356 131.5 360.8 132.5 362.5C133.5 364.2 136.2 367.6 137.5 368.8C138.8 369.9 142.4 372.2 143.8 373C145.1 373.8 148.6 375.6 150 376.2C151.4 376.9 154.7 378.3 156.2 378.8C157.8 379.2 162.5 380.1 163.8 380C165 379.9 166.8 377.5 167.5 377.5C168.2 377.5 168.9 379.4 170 380C171.1 380.6 175.8 382.1 177.5 382.5C179.2 382.9 183.6 383.2 185 383.8C186.4 384.3 188.8 386.7 190 387.5C191.2 388.3 194.6 390.2 196.2 390.8C197.9 391.3 203.2 392.3 205 392.5C206.8 392.7 210.8 392.8 212.5 392.5C214.2 392.2 218.3 390.8 220 390C221.7 389.2 225.8 386.6 227.5 385.5C229.2 384.4 233.5 381.3 235 380C236.5 378.7 240.3 375 241.2 373.8C242.2 372.5 243.1 369.7 243.8 368.8C244.4 367.8 246.7 365.8 247.5 365C248.3 364.2 250.4 362 251.2 362C252.1 362 254 364.1 255 365C256 365.9 258.6 369 260 370C261.4 371 265.8 372.9 267.5 373.8C269.2 374.6 273.1 376.9 275 377.5C276.9 378.1 282.8 378.9 285 379C287.2 379.1 292.9 378.7 295 378.2C297.1 377.8 301.8 375.5 303.8 375C305.7 374.5 310.7 374.2 312.5 373.8C314.3 373.3 318.5 372.1 320 371.2C321.5 370.4 325.1 367.4 326.2 366.2C327.4 365.1 329 362.3 330 361.2C331 360.2 333.9 357.6 335 357C336.1 356.4 339.1 355.6 340 355.8C340.9 355.9 342.9 357.4 343 358C343.1 358.6 340.8 360.6 341.2 361.2C341.8 361.9 346.4 362.9 347.5 363.8C348.6 364.6 350.6 367.7 351.2 368.8C351.9 369.8 353.1 372.4 353.8 373C354.4 373.6 356.7 373.9 357.5 373.8C358.3 373.6 360.1 372.6 361.2 372C362.4 371.4 366.1 369.5 367.5 368.8C368.9 368 372.6 365.6 373.8 365C374.9 364.4 376.5 362.7 377.5 363C378.5 363.3 381.1 366.3 382.5 367.5C383.9 368.7 388.3 372.5 390 373.8C391.7 375 396 377.6 397.5 378.8C399 379.9 402.6 382.5 403.8 383.8C404.9 385 407.3 389.1 408 390C408.7 390.9 410.2 391.7 410 392C409.8 392.3 406.8 392.2 406.2 393C405.7 393.8 405.1 397.4 405 398.8C404.9 400.1 405.5 403.5 405.8 405C406 406.5 406.5 410.4 407 412C407.5 413.6 409.2 418 410 419.5C410.8 421 412.9 424.6 413.8 425.8C414.6 426.9 416.5 429 417.5 430C418.5 431 421.2 433.6 422.5 434.5C423.8 435.4 427.4 437.6 428.8 438.2C430.1 438.9 433.9 439.9 435 440C436.1 440.1 438.1 438.8 438.8 439C439.4 439.2 440.3 441.1 441.2 441.5C442.2 441.9 446.1 442.4 447.5 442.5C448.9 442.6 452.6 441.8 453.8 442C454.9 442.2 456.5 443.9 457.5 444C458.5 444.1 461.5 443.1 462.5 443.2C463.5 443.4 465.3 445.3 466.2 445.8C467.2 446.2 470.3 447 471.2 447C472.2 447 474.4 446.6 475 445.8C475.6 444.9 475.8 440.2 476.2 439.5C476.7 438.8 478.3 438.3 478.8 439C479.2 439.7 479.6 444.9 480 445.8C480.4 446.6 482.2 447.5 482.5 446.5C482.8 445.5 482.6 438.1 483 437C483.4 435.9 485.8 436.5 486.2 436.5C486.8 436.5 487.3 436.1 487.5 437C487.7 437.9 487.7 443 488 444.5C488.3 446 489.5 449.5 490 450.8C490.5 452 491.8 454.9 492.5 455.8C493.2 456.6 495.6 458.1 496.2 458.2C496.9 458.4 498.4 457.6 498.8 457C499.1 456.4 499.1 453.7 499.5 453.2C499.9 452.8 501.6 452.8 502 453.2C502.4 453.7 502.7 456.4 503 457C503.3 457.6 504.4 458.9 505 459C505.6 459.1 508.2 458.5 508.8 458.2C509.3 458 509.3 457 510 457C510.7 457 513.6 458.1 515 458.2C516.4 458.4 520.8 458.4 522.5 458.2C524.2 458.1 528.3 457.1 530 456.5C531.7 455.9 536 454.2 537.5 453.2C539 452.3 542.8 449.2 543.8 448.2C544.7 447.3 545.8 444.4 546.2 444.5C546.7 444.6 547.1 449.1 547.5 449.5C547.9 449.9 549.1 449.1 549.5 448.2C549.9 447.4 550.9 443.5 551.2 442C551.6 440.5 552.1 435.6 552.5 435C552.9 434.4 554.3 436.8 555 437C555.7 437.2 558.1 436.4 558.8 436.5C559.4 436.6 560.7 438.2 561.2 438.2C561.8 438.3 563.3 436.6 563.8 437C564.2 437.4 564.6 441.4 565 441.5C565.4 441.6 566.8 437.9 567.5 437.5C568.2 437.1 570.3 438.4 571.2 438.2C572.2 438.1 575.6 435.7 576.2 436.5C576.9 437.3 577.2 445.6 577.5 445.8C577.8 445.9 578.2 438.4 578.8 437.5C579.3 436.6 581.2 437.6 582.5 437.8C583.8 437.9 588.6 439.1 590 439C591.4 438.9 593.9 437.3 595 437C596.1 436.7 598.8 436.4 600 436.5C601.2 436.6 604.9 437.8 606.2 437.8C607.6 437.8 611.1 436.7 612.5 436.5C613.9 436.3 617.4 436 618.8 435.8C620.1 435.5 623.6 434.3 625 434C626.4 433.7 629.9 433.5 631.2 433.2C632.6 433 636.1 431.9 637.5 431.5C638.9 431.1 642.4 430.4 643.8 430C645.1 429.6 648.8 428.7 650 428.2C651.2 427.8 653.9 426.3 655 425.8C656.1 425.2 659.5 424 660 423.2C660.5 422.5 659.2 419.2 659.5 419C659.8 418.8 661.5 421.1 662.5 421.5C663.5 421.9 667.4 422.6 668.8 422.5C670.1 422.4 674.9 421.2 675 420.8C675.1 420.3 671.1 418.8 670 418.2C668.9 417.7 666 416.3 665 415.8C664 415.2 661.8 413.7 661.2 413.2C660.7 412.8 660.3 412.6 660 412C659.7 411.4 659.1 408.6 658.8 407.5C658.4 406.4 657.6 403.5 657 402.5C656.4 401.5 654.5 399.4 653.8 398.8C653 398.1 650.6 396.9 650 396.2C649.4 395.6 648.3 393.1 648.8 393C649.2 392.9 652.6 395.3 653.8 395.5C654.9 395.7 657.8 395.3 658.8 395C659.7 394.7 661.7 392.9 662.5 392.5C663.3 392.1 665.7 391.8 666.2 391.2C666.8 390.7 666.9 388.1 667.5 387.5C668.1 386.9 670.6 386.8 671.2 386.2C671.9 385.7 673.5 383.3 673.8 382.5C674 381.7 674 379.7 673.8 378.8C673.5 377.8 671.9 374.8 671.2 373.8C670.6 372.7 668.2 370 667.5 369.5C666.8 369 665.3 369.2 664.5 369.5C663.7 369.8 661 371.7 660 372.5C659 373.3 656.2 376.7 655.5 377C654.8 377.3 654 375.8 653.8 375C653.5 374.2 653 371 653 370C653 369 653.4 366.9 653.8 366.2C654.1 365.6 655.7 364.2 656.2 363.8C656.8 363.3 658.8 363 658.8 362.5C658.8 362 656.8 359.8 656.2 359.5C655.7 359.2 654.3 359.8 653.8 360C653.2 360.2 651.7 361.4 651.2 361.2C650.8 361.1 649.9 359.3 650 358.8C650.1 358.2 651.8 356.8 652.5 356.2C653.2 355.8 655.3 354.5 656.2 354.2C657.2 354 660.1 354.1 661.2 353.8C662.4 353.4 665.4 352.1 666.2 351.2C667.1 350.4 668.2 347.4 668.8 346.2C669.3 345.1 670.9 342.5 671.2 341.2C671.6 340 671.7 336.1 672 335C672.3 333.9 673.4 332.4 673.8 331.2C674.1 330.1 674.9 326.5 675 325C675.1 323.5 674.6 319.2 674.2 317.5C673.9 315.8 672.6 311.5 672 310C671.4 308.5 669.5 304.9 668.8 303.8C668 302.6 666.6 300.4 665.5 300C664.4 299.6 660.3 299.9 658.8 300C657.2 300.1 652.1 301.7 651.2 301.2C650.4 300.8 650.2 297.2 650.8 296.2C651.3 295.3 654.9 293.7 656.2 293C657.6 292.3 661.6 291 662.5 290C663.4 289 664.1 284.8 664.5 283.8C664.9 282.7 665.4 281.3 666.2 280.8C667.1 280.2 671.1 279.2 672.5 278.8C673.9 278.3 677.6 277.3 678.8 277C679.9 276.7 681.7 276.1 682.5 276.2C683.3 276.4 685.4 278.6 686.2 278.8C687.1 278.9 689.2 277.9 690 278C690.8 278.1 692.6 279.1 693 279.5C693.4 279.9 693 281.5 693.8 282C694.5 282.5 698.5 283.3 700 283.8C701.5 284.2 705.8 285.6 707.5 286.2C709.2 286.9 713.2 289.2 715 290C716.8 290.8 721.8 292.8 723.8 293.2C725.7 293.7 730.7 294.1 732.5 294.2C734.3 294.4 738.5 294.4 740 294.5C741.5 294.6 745.1 294.6 746.2 295C747.4 295.4 748.9 296.9 750 298C751.1 299.1 754.9 303.2 756.2 305C757.6 306.8 761 311.8 762.5 313.8C764 315.7 768.3 320.7 770 322.5C771.7 324.3 775.7 328.6 777.5 330C779.3 331.4 784 334.4 786.2 335.5C788.5 336.6 795.1 338.9 797.5 339.5C799.9 340.1 805.3 341 807.5 341.2C809.7 341.5 815.4 342.1 817.5 342C819.6 341.9 824.4 341.2 826.2 340.8C828.1 340.2 832.4 338.3 833.8 337.5C835.1 336.7 837.4 333.9 838.8 333.2C840.1 332.6 844.4 331.7 846.2 331.2C848.1 330.8 853.2 329.8 855 329.5C856.8 329.2 860.8 328.5 862.5 328.2C864.2 328 868.6 327.4 870 327C871.4 326.6 873.1 325.7 875 325C876.9 324.3 884.7 321.3 887.5 320.5C890.3 319.7 897.8 318.6 900 318C902.2 317.4 905.6 315.8 907.5 315.5C909.4 315.2 915.7 315.4 917.5 315.5C919.3 315.6 922.8 316.3 923.8 316.2C924.7 316.2 925.4 315 926.2 315C927.1 315 930.7 316.1 931.2 316.2M417.5 430C416.1 430.6 407.5 434.9 405 435.8C402.5 436.6 396.9 437.5 395 437.8C393.1 438 388.8 437.9 387.5 438.2C386.2 438.6 383.3 440.2 383 440.8C382.7 441.3 385 442.3 385 443.2C385 444.2 383.4 447.4 383 449.5C382.6 451.6 381.4 458.9 381.2 462C381.1 465.1 381.1 473.7 381.2 477C381.4 480.3 382.2 489.1 382.5 492C382.8 494.9 382.9 501.6 383.8 503.2C384.6 504.9 388.2 506.2 390 507C391.8 507.8 397.8 510 400 510.8C402.2 511.5 408.5 513.2 410 514C411.5 514.8 413.2 516.8 413.8 518.2C414.2 519.7 414.2 525.2 414.5 527C414.8 528.8 416.3 532.8 416.2 534.5C416.2 536.2 414.2 540.5 413.8 542C413.3 543.5 412.2 547 412.5 548.2C412.8 549.5 414.7 552.6 416.2 553.2C417.8 553.9 424.4 553.6 426.2 554C428.1 554.4 431.2 555.8 432.5 557C433.8 558.2 436.6 562.8 437.5 564.5C438.4 566.2 440 570.1 440.5 572C441 573.9 441.7 579.8 441.8 582C441.8 584.2 440.9 590.2 441.2 592C441.6 593.8 444 597.1 445 598.2C446 599.4 449.2 600.6 450 602C450.8 603.4 451.8 608.8 452.5 610.8C453.2 612.7 455.3 617.7 456.2 619.5C457.2 621.3 460.6 625.7 461.2 627C461.9 628.3 462.5 629.6 462.5 631.5C462.5 633.4 461.7 641.5 461.2 644.5C460.8 647.5 459.3 655.6 458.8 658.2C458.2 660.9 456.9 666.9 456.2 668.2C455.6 669.6 454.3 670.5 452.5 670.8C450.7 671 443.1 670.4 440 670.2C436.9 670.1 428.9 669.6 425 669.5C421.1 669.4 409.4 669.1 405 669C400.6 668.9 389.2 668.3 385 668.2C380.8 668.2 370.8 668 367.5 668.2C364.2 668.5 357.8 670.1 355 670.2C352.2 670.4 345.3 669.4 342.5 669.5C339.7 669.6 332.5 670.7 330 670.8C327.5 670.8 322.4 670.1 320 670C317.6 669.9 310.6 669.8 308.8 670C306.9 670.2 304.7 671.6 303.8 671.5C302.8 671.4 300.7 670.3 300 669.5C299.3 668.7 298.1 665.8 297.5 664.5C296.9 663.2 296 659.5 295 658.2C294 657 290.4 653.9 288.8 653.2C287.1 652.6 281.7 652.1 280 652C278.3 651.9 275.1 652.3 273.8 652C272.4 651.7 269 650.1 267.5 649.5C266 648.9 261.5 647.3 260 647C258.5 646.7 255.3 647.2 253.8 647C252.2 646.8 247.5 645.6 246.2 645C245 644.4 243.5 642.2 242.5 641.5C241.5 640.8 238.6 639.2 237.5 639C236.4 638.8 233.1 639.5 232.5 640C231.9 640.5 231.9 642.5 232.5 643.2C233.1 644 236.2 646.4 237.5 647C238.8 647.6 242.6 648 243.8 648.2C244.9 648.5 247.6 648.8 248 649.5C248.4 650.2 247.4 653.4 247.5 654.5C247.6 655.6 248.9 658.5 248.8 659.5C248.6 660.5 247.2 662.8 246.2 663.2C245.3 663.8 241.8 663.9 240 664C238.2 664.1 231.9 664.3 230 664.5C228.1 664.7 223.8 665.8 222.5 665.8C221.2 665.7 219.4 664.8 218.8 664C218.1 663.2 216.7 660.1 216.2 658.2C215.8 656.4 215.4 649.4 215 647C214.6 644.6 213.2 638.8 212.5 637C211.8 635.2 209.9 631.6 208.8 630.8C207.6 629.9 203.8 629.9 202.5 629.5C201.2 629.1 198.5 627.4 197.5 627C196.5 626.6 194.7 626 193.8 626.2C192.8 626.5 190 628.3 188.8 629.5C187.5 630.7 184.2 635.3 182.5 637C180.8 638.7 175.4 642.8 173.8 644.5C172.1 646.2 168.8 650.6 167.5 652C166.2 653.4 163.8 656.3 162.5 657C161.2 657.7 156.7 657.4 156.2 658.2C155.8 659.1 158.2 662.7 158.8 664.5C159.3 666.3 160.7 672.3 161.2 674.5C161.8 676.7 163.2 682.3 163.8 684.5C164.3 686.7 165.7 692.4 166.2 694C166.8 695.6 168.2 697.8 168.8 699C169.3 700.2 170.9 704 171.2 705.2C171.6 706.5 171.3 709.6 172 710.2C172.7 710.9 176.6 710.9 177.5 711.5C178.4 712.1 180 714.1 180.5 715.2C181 716.4 181.7 720.5 182 721.5C182.3 722.5 183.1 723.4 183 724C182.9 724.6 181.1 725.7 180.8 726.5C180.4 727.3 180.5 730.2 180 731.5C179.5 732.8 177.4 737 176.2 738.5C175.1 740 171.4 744 170 745.2C168.6 746.5 165.3 748.9 163.8 749.5C162.2 750.1 157.9 750.3 156.2 750.2C154.6 750.2 150.6 749.1 148.8 749C146.9 748.9 141.4 749.2 140 749.5C138.6 749.8 136.2 750.7 135.8 751.5C135.3 752.3 135.9 755.2 136.2 756.5C136.6 757.8 138.5 761.4 138.8 762.8C139 764.1 139 767.5 138.8 769C138.5 770.5 136.7 774.8 136.2 776.5C135.8 778.2 134.8 782.5 134.5 784C134.2 785.5 134.1 788.8 133.8 790.2C133.4 791.7 131.3 795.5 131.2 797C131.2 798.5 132.9 802.4 133 804C133.1 805.6 132.4 810.1 132.5 811.5C132.6 812.9 133.1 815.2 133.8 816.5C134.4 817.8 137.5 821.4 138.8 822.8C140 824.1 144.1 827.5 145 829C145.9 830.5 146.5 834.8 146.8 836.5C147 838.2 147.1 842.5 147.5 844C147.9 845.5 149.2 848.7 150 850.2C150.8 851.8 153.9 856.2 155 857.8C156.1 859.3 158.9 862.8 159.5 864C160.1 865.2 160 867.6 160 869C160 870.4 159.4 874.8 159.2 876.5C159.1 878.2 159.1 882.3 158.8 884C158.4 885.7 156.5 889.8 156.2 891.5C156 893.2 156.4 897.3 156.2 899C156.1 900.7 155 904.8 155 906.5C155 908.2 155.9 912.2 156.2 914C156.6 915.8 157.7 920.9 158 922.8C158.3 924.6 158.9 928.6 158.8 930.2C158.6 931.9 156.7 936.1 156.2 937.8C155.8 939.4 155 943.6 155 945.2C155 946.9 156 950.9 156.2 952.8C156.5 954.6 157.1 959.7 157.5 961.5C157.9 963.3 158.9 968.2 160 969C161.1 969.8 166.2 968.1 167.5 968.5C168.8 968.9 170.1 971.1 171.2 972.2C172.4 973.4 176.1 977.1 177.5 978.5C178.9 979.9 182.5 983.5 183.8 984.8C185 986 188.1 988.8 188.8 989.8C189.4 990.7 189.3 993.1 190 993.5C190.7 993.9 193.9 993.2 195 993C196.1 992.8 199.1 991.6 200 991.8C200.9 991.9 202.3 993.2 203 994C203.7 994.8 205.5 997.4 206.2 998.5C207 999.6 209.2 1002.8 210 1004C210.8 1005.2 212.9 1008.5 213.8 1009.8C214.6 1011 216.5 1014.5 217.5 1015.5C218.5 1016.5 221.4 1017.8 222.5 1018.5C223.6 1019.2 226.1 1021.5 227 1022.2C227.9 1023 230.6 1024.7 230.5 1025.5C230.4 1026.3 227.3 1028.9 226.2 1029.8C225.2 1030.6 222.4 1032.5 221.2 1033C220.1 1033.5 217.2 1033.5 216.2 1034C215.3 1034.5 213.1 1036.3 212.5 1037.2C211.9 1038.2 211.4 1041.1 211.2 1042.2C211.1 1043.4 211 1046.3 210.8 1047.2C210.5 1048.2 209.5 1050.4 208.8 1051C208 1051.6 205.1 1052.6 203.8 1053C202.4 1053.4 197.1 1054.6 196.2 1054.8M462.5 631.5C463.9 631.4 471.9 631 475 630.8C478.1 630.5 488.1 629.2 490 629.5C491.9 629.8 492.6 631.9 492.5 633.2C492.4 634.6 489.7 639.8 488.8 642C487.8 644.2 484.8 650.9 483.8 653.2C482.7 655.6 480 661.4 479.5 663.2C479 665.1 478.9 668.5 479.5 669.5C480.1 670.5 483.4 671.9 485 672C486.6 672.1 491.8 671.4 493.8 670.8C495.7 670.1 500.1 666.5 502.5 665.8C504.9 665 512.9 664.7 515 664C517.1 663.3 519.9 660.2 521.2 659.5C522.6 658.8 526 657.5 527.5 657.5C529 657.5 533.6 658.6 535 659.5C536.4 660.4 538.8 664.8 540 665.8C541.2 666.7 544.9 667.7 546.2 668.2C547.6 668.8 551.1 669.9 552.5 670.8C553.9 671.6 557.1 674.6 558.8 675.8C560.4 676.9 565.7 679.9 567.5 680.8C569.3 681.6 573.6 683.1 575 683.2C576.4 683.4 579 683 580 682C581 681 583.1 676.4 583.8 674.5C584.4 672.6 586 667 586.2 664.5C586.5 662 586 654.5 586.2 652C586.5 649.5 588.2 644.2 588.8 642C589.3 639.8 590.9 634.4 591.2 632C591.6 629.6 592.4 622.4 592 620.8C591.6 619.1 588.5 618.2 587.5 617C586.5 615.8 583.6 611.7 583 609.5C582.4 607.3 583 598.9 582.5 597C582 595.1 579 593.4 578.8 592C578.5 590.6 578.8 585.8 580 584.5C581.2 583.2 587.8 581.4 590 580.8C592.2 580.1 598.3 578.6 600 578.2C601.7 577.9 603.8 577.7 605 577.5C606.2 577.3 610.4 577.7 611.2 576.5C612.1 575.3 611.9 569.3 612.5 567C613.1 564.7 615.1 558.1 616.2 555.8C617.4 553.4 621.1 548 622.5 545.8C623.9 543.5 627.5 538 628.8 535.8C630 533.5 632.9 528.1 633.8 525.8C634.6 523.4 635.9 517.4 636.2 514.5C636.6 511.6 636.7 503.9 636.8 499.5C636.8 495.1 636.8 480.1 636.8 474.5C636.8 468.9 636.8 454.2 636.8 449.5C636.7 444.8 636.3 433.9 636.2 432" fill="none" stroke="#000" stroke-width="2.0" stroke-linejoin="round" stroke-linecap="round"/>
<ellipse cx="293.2" cy="143.8" rx="2.1" ry="2.3" fill="#000"/>
<ellipse cx="272.8" cy="150" rx="2.1" ry="2.1" fill="#000"/>
<ellipse cx="267.5" cy="194.8" rx="3.8" ry="2.2" transform="rotate(20 267.5 194.8)" fill="none" stroke="#000" stroke-width="1.8"/>
<ellipse cx="309.5" cy="225.5" rx="2.3" ry="2" fill="#000"/>
<ellipse cx="312.5" cy="227.5" rx="2" ry="2" fill="#000"/>
<ellipse cx="307" cy="232" rx="2.1" ry="2.5" fill="#000"/>
<ellipse cx="294.2" cy="288.5" rx="3.2" ry="1.8" transform="rotate(50 294.2 288.5)" fill="none" stroke="#000" stroke-width="1.8"/>
<ellipse cx="303" cy="296" rx="2.6" ry="2" transform="rotate(20 303 296)" fill="none" stroke="#000" stroke-width="1.8"/>
<ellipse cx="238.2" cy="313.8" rx="1.8" ry="2.8" transform="rotate(0 238.2 313.8)" fill="none" stroke="#000" stroke-width="1.8"/>
<ellipse cx="335.5" cy="302.2" rx="3" ry="1.8" transform="rotate(10 335.5 302.2)" fill="none" stroke="#000" stroke-width="1.8"/>
<ellipse cx="389.2" cy="329.2" rx="3.2" ry="3.8" transform="rotate(-20 389.2 329.2)" fill="none" stroke="#000" stroke-width="1.8"/>
<ellipse cx="402.2" cy="331.5" rx="4" ry="2.8" transform="rotate(15 402.2 331.5)" fill="none" stroke="#000" stroke-width="1.8"/>
<ellipse cx="523" cy="314.2" rx="3" ry="3" transform="rotate(30 523 314.2)" fill="none" stroke="#000" stroke-width="1.8"/>
<ellipse cx="525.5" cy="337.8" rx="2" ry="2" fill="#000"/>
<ellipse cx="467.8" cy="355.5" rx="2.7" ry="2.2" fill="#000"/>
<ellipse cx="427" cy="381.2" rx="2.2" ry="2.2" fill="#000"/>
<ellipse cx="427.5" cy="386.8" rx="1.9" ry="1.9" fill="#000"/>
<ellipse cx="437.5" cy="383.2" rx="2.1" ry="2.1" fill="#000"/>
<path d="M202.1 170L213.3 172.5L217 171.2L221.3 174.6L229.6 177.5L229.6 178.5L220.8 175.8L213.3 173.6L202.1 171ZM235.3 178.1L245.8 179.1L245.8 179.9L235.3 178.9ZM317.6 231.4L321 227.5L326 224.8L331 223.6L335.5 223.8L331 225.6L326 227.6L321 230.3Z" fill="none" stroke="#000" stroke-width="1.9" stroke-linejoin="round" stroke-linecap="round"/>
<path d="M110 241.9L82.5 243.9L82.3 249.8M220 241.8L192.5 240.8L191.7 246.6M330 241.8L302.5 237.5L301 243.2M440 241.8L413.8 235L411.7 240.6M550 241.8L523.2 234.2L521.1 239.8M660 241.8L633.8 233L629.4 243.7M770 241.8L744.2 232.5L739.7 243.1M880 241.8L854.5 232.5L849.9 243.1M110 351.8L82.5 356.2L82.9 362.2M220 351.8L192.5 355.8L192.8 361.7M330 351.8L302 352.5L301.6 358.4M440 351.8L412.5 349.5L411.4 355.3M550 351.8L522.5 347L520.9 352.7M660 351.8L633.8 344.5L631.6 350M770 351.8L744.2 343.8L740.2 354.5M880 351.8L854.5 343.2L850.2 353.9M110 462L82.5 464L82.3 469.9M220 462L192.5 462.8L192.1 468.7M330 462L302.5 463.2L302.2 469.2M440 462L412.5 462L411.9 467.9M550 462L522 458.2L520.6 464M660 462L632.5 457L630.9 462.7M770 462L742.5 456.5L740.8 462.2M880 462L853.8 454.5L849.9 465.4M110 571.5L82.5 575.2L82.7 581.2M220 571.5L192.5 569.5L191.5 575.3M330 571.5L302.5 569.5L301.5 575.3M440 571.5L413 567.5L411.5 573.2M550 571.5L522.5 566.5L520.9 572.2M660 571.5L632.5 568.2L631.2 574M770 571.5L742.5 567.5L741.1 573.3M880 571.5L852.5 565.8L850.7 571.4M110 682L82.5 687L83 692.9M220 682L192.5 685L192.5 690.9M330 682L302 681.5L301.3 687.4M440 682L413 678.2L411.6 684M550 682L522.5 678.2L521.1 684M660 682L632.5 680.2L631.5 686.1M770 682L742.5 679.5L741.4 685.3M880 682L852.5 677.5L851 683.2M110 792L82.5 796.5L82.9 802.4M220 792L192.5 796L192.8 801.9M330 792L302 792.8L301.6 798.7M440 792L413 790.2L412 796.1M550 792L522.5 793.5L522.2 799.4M660 792L632.5 794.8L632.5 800.7M770 792L742.5 792.8L742.1 798.7M880 792L852.5 787.8L851 793.5M110 902L82.5 906.5L82.9 912.4M220 902L192.5 902.8L192.1 908.7M330 902L302.5 898.5L301.2 904.3M440 902L413.8 895.2L411.7 900.8M550 902L522.5 904.8L522.5 910.7M660 902L633.2 907.2L633.8 913.2M770 902L742.5 902.8L742.1 908.7M880 901.5L853 897.2L851.5 903M110 1011.5L82.5 1009.2L81.4 1015.1" fill="none" stroke="#1c32ff" stroke-width="1.25" stroke-linejoin="miter"/>
<circle cx="220.2" cy="1012" r="1.5" fill="none" stroke="#1a30ff" stroke-width="1.1"/>
<circle cx="330.2" cy="1012" r="1.5" fill="none" stroke="#1a30ff" stroke-width="1.1"/>
<circle cx="440.2" cy="1012" r="1.5" fill="none" stroke="#1a30ff" stroke-width="1.1"/>
<circle cx="550.2" cy="1012" r="1.5" fill="none" stroke="#1a30ff" stroke-width="1.1"/>
<circle cx="660.2" cy="1012" r="1.5" fill="none" stroke="#1a30ff" stroke-width="1.1"/>
<circle cx="770.2" cy="1012" r="1.5" fill="none" stroke="#1a30ff" stroke-width="1.1"/>
<circle cx="880.2" cy="1012" r="1.5" fill="none" stroke="#1a30ff" stroke-width="1.1"/>
</g>
<text x="150.54" y="44.6" font-size="27.78" font-weight="bold" font-style="normal" textLength="408.26" lengthAdjust="spacingAndGlyphs" xml:space="preserve">Prediksi Angin Lapisan 925 mb</text>
<text x="150.32" y="88.6" font-size="20.83" font-weight="bold" font-style="normal" textLength="212.19" lengthAdjust="spacingAndGlyphs" xml:space="preserve">Wilayah Jabodetabek</text>
<text x="650.81" y="44.7" font-size="16.4" font-weight="bold" font-style="normal" textLength="282.20" lengthAdjust="spacingAndGlyphs" xml:space="preserve">Berlaku:  04 Februari 2026 09 UTC</text>
<text x="624.80" y="88.8" font-size="16.4" font-weight="bold" font-style="italic" textLength="308.38" lengthAdjust="spacingAndGlyphs" xml:space="preserve">Data Inisial:  02 Februari 2026 00 UTC</text>
<text x="61.16" y="1100.9" font-size="16.67" font-weight="normal" font-style="normal" textLength="133.41" lengthAdjust="spacingAndGlyphs" xml:space="preserve">Model: IFS 0.125</text>
<text x="765.65" y="1101" font-size="16.67" font-weight="normal" font-style="normal" textLength="168.04" lengthAdjust="spacingAndGlyphs" xml:space="preserve">Sumber: CIPS BMKG</text>
<text x="638.34" y="1079" font-size="16.67" font-weight="normal" font-style="normal" textLength="46.28" lengthAdjust="spacingAndGlyphs" xml:space="preserve">107°E</text>
<text x="25.83" y="357" font-size="16.67" font-weight="normal" font-style="normal" textLength="27.19" lengthAdjust="spacingAndGlyphs" xml:space="preserve">6°S</text>
<text x="61.10" y="97.5" font-size="15.6" font-weight="bold" font-style="normal" textLength="48.02" lengthAdjust="spacingAndGlyphs" xml:space="preserve">BMKG</text>
<text fill="#151515" x="734.72" y="1052.9" font-size="9.9" font-weight="normal" font-style="normal" textLength="199.14" lengthAdjust="spacingAndGlyphs" xml:space="preserve">©Sub Bidang Prediksi Cuaca BMKG, 2026</text>
<text x="1013.69" y="936.8" font-size="16.67" font-weight="normal" font-style="normal" textLength="23.97" lengthAdjust="spacingAndGlyphs" xml:space="preserve">0.0</text>
<text x="1013.36" y="875.7" font-size="16.67" font-weight="normal" font-style="normal" textLength="24.03" lengthAdjust="spacingAndGlyphs" xml:space="preserve">5.0</text>
<text x="1014.86" y="814.6" font-size="16.67" font-weight="normal" font-style="normal" textLength="31.80" lengthAdjust="spacingAndGlyphs" xml:space="preserve">10.0</text>
<text x="1014.86" y="753.5" font-size="16.67" font-weight="normal" font-style="normal" textLength="31.80" lengthAdjust="spacingAndGlyphs" xml:space="preserve">15.0</text>
<text x="1014.01" y="692.4" font-size="16.67" font-weight="normal" font-style="normal" textLength="32.73" lengthAdjust="spacingAndGlyphs" xml:space="preserve">20.0</text>
<text x="1014.01" y="631.3" font-size="16.67" font-weight="normal" font-style="normal" textLength="32.73" lengthAdjust="spacingAndGlyphs" xml:space="preserve">25.0</text>
<text x="1013.65" y="570.2" font-size="16.67" font-weight="normal" font-style="normal" textLength="33.15" lengthAdjust="spacingAndGlyphs" xml:space="preserve">34.0</text>
<text x="1013.17" y="509.1" font-size="16.67" font-weight="normal" font-style="normal" textLength="32.84" lengthAdjust="spacingAndGlyphs" xml:space="preserve">48.0</text>
<text x="1013.69" y="448" font-size="16.67" font-weight="normal" font-style="normal" textLength="33.02" lengthAdjust="spacingAndGlyphs" xml:space="preserve">64.0</text>
<text x="1013.53" y="386.9" font-size="16.67" font-weight="normal" font-style="normal" textLength="33.35" lengthAdjust="spacingAndGlyphs" xml:space="preserve">80.0</text>
<text x="1014.77" y="325.8" font-size="16.67" font-weight="normal" font-style="normal" textLength="41.99" lengthAdjust="spacingAndGlyphs" xml:space="preserve">100.0</text>
<text x="1014.35" y="264.7" font-size="16.67" font-weight="normal" font-style="normal" textLength="42.43" lengthAdjust="spacingAndGlyphs" xml:space="preserve">120.0</text>
<rect x="62.5" y="132.5" width="871" height="923.9" fill="none" stroke="#000" stroke-width="2.8"/>
<g clip-path="url(#logoclip)">
<rect x="53" y="22.2" width="63.8" height="5.6" fill="#0f36c8"/>
<rect x="53" y="31.7" width="63.8" height="4.4" fill="#0f36c8"/>
<rect x="53" y="38.9" width="15.9" height="3.2" fill="#0f36c8"/>
<rect x="89.3" y="38.9" width="27.5" height="3.2" fill="#0f36c8"/>
<rect x="101.2" y="44.1" width="15.6" height="2" fill="#0f36c8"/>
<rect x="110" y="46.9" width="6.8" height="2" fill="#0f36c8"/>
<ellipse cx="79.3" cy="38.9" rx="7.6" ry="4.9" fill="#fff"/>
<ellipse cx="62.9" cy="42.5" rx="4.9" ry="2.6" fill="#fff"/>
<ellipse cx="95.2" cy="42.9" rx="4.9" ry="2.6" fill="#fff"/>
<ellipse cx="105.2" cy="46.9" rx="3.6" ry="2" fill="#fff"/>
<rect x="53" y="52.6" width="63.8" height="1.6" fill="#777"/>
<path d="M53 57.7L69.7 57.7L71.3 59L53 59Z" fill="#0c960f"/>
<path d="M53 60.1L71.7 60.1L74.1 62L53 62Z" fill="#0c960f"/>
<path d="M74.9 61.9L116.8 61.9L116.8 63L76.5 63Z" fill="#0c960f"/>
<path d="M53 64.4L78.5 64.4L79.3 64.6L116.8 64.6L116.8 66.4L80.1 66.4L78.9 67.6L53 67.6Z" fill="#0c960f"/>
<path d="M81.3 68.4L116.8 68.4L116.8 71.6L84.9 71.6Z" fill="#0c960f"/>
<path d="M53 70L82.5 70L86.1 74.6L53 74.6Z" fill="#0c960f"/>
<path d="M86.9 74.4L116.8 74.4L116.8 78.8L91.3 78.8Z" fill="#0c960f"/>
<path d="M53 78.4L89.7 78.4L94 82L89.7 84.4L53 84.4Z" fill="#0c960f"/>
</g>
<path d="M979.8 0.6H1054V207.8L1016.9 158L979.8 207.8Z" fill="#0066a6"/>
<text transform="translate(1031 68.5) rotate(-90)" font-size="40" font-weight="bold" fill="#fff" text-anchor="middle">IFS</text>
<rect x="970.4" y="929.9" width="19.2" height="34.2" fill="#F0F8FF"/>
<rect x="970.4" y="868.8" width="19.2" height="61.4" fill="#CCF0FF"/>
<rect x="970.4" y="807.7" width="19.2" height="61.4" fill="#9DDCFA"/>
<rect x="970.4" y="746.6" width="19.2" height="61.4" fill="#AAFFA5"/>
<rect x="970.4" y="685.5" width="19.2" height="61.4" fill="#7FDF7A"/>
<rect x="970.4" y="624.4" width="19.2" height="61.4" fill="#E6E678"/>
<rect x="970.4" y="563.3" width="19.2" height="61.4" fill="#FFCC00"/>
<rect x="970.4" y="502.2" width="19.2" height="61.4" fill="#FF7F50"/>
<rect x="970.4" y="441.1" width="19.2" height="61.4" fill="#E62C0F"/>
<rect x="970.4" y="380" width="19.2" height="61.4" fill="#C00000"/>
<rect x="970.4" y="318.9" width="19.2" height="61.4" fill="#960000"/>
<rect x="970.4" y="257.8" width="19.2" height="61.4" fill="#7D00A0"/>
<rect x="970.4" y="224.3" width="19.2" height="33.8" fill="#FF6482"/>
<rect x="970.4" y="224.3" width="19.2" height="739.5" fill="none" stroke="#000" stroke-width="2.8"/>
<path d="M989.6 930.5H1002M989.6 869.4H1002M989.6 808.3H1002M989.6 747.2H1002M989.6 686.1H1002M989.6 625H1002M989.6 563.9H1002M989.6 502.8H1002M989.6 441.7H1002M989.6 380.6H1002M989.6 319.5H1002M989.6 258.4H1002" stroke="#000" stroke-width="2.8" fill="none"/>
</svg></body></html>
